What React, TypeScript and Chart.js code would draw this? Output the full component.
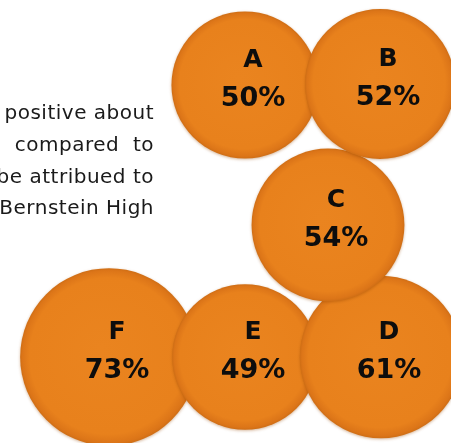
import React, { useEffect, useRef } from "react";
import { Chart, registerables } from "chart.js";

Chart.register(...registerables);

// Data
const CATEGORIES = ["A", "B", "C", "D", "E", "F"];
const VALUES = [50, 52, 54, 61, 49, 73]; // percent
// Packed-bubble layout (scale units) for each category
const LAYOUT_X = [245, 380, 328, 381, 245, 109];
const LAYOUT_Y = [85, 84, 225, 357, 357, 357];
// drawing order (back to front)
const DRAW_ORDER = [5, 4, 3, 2, 0, 1];
const SIDE_TEXT = ["positive about", "compared  to", "be attribued to", "Bernstein High"];

const W = 451;
const H = 443;
const RADIUS_K = 10.4;

export default function App() {
  const ref = useRef<HTMLCanvasElement | null>(null);

  useEffect(() => {
    document.body.style.margin = "0";
    const canvas = ref.current;
    if (!canvas) return;

    const points = DRAW_ORDER.map((i) => ({
      x: LAYOUT_X[i],
      y: LAYOUT_Y[i],
      v: VALUES[i],
      label: CATEGORIES[i],
    }));

    const radiusOf = (v: number) => RADIUS_K * Math.sqrt(v);

    const labelPlugin = {
      id: "bubbleLabels",
      beforeDatasetsDraw(chart: any) {
        const ctx = chart.ctx;
        ctx.save();
        ctx.fillStyle = "#1a1a1a";
        ctx.font = "20px 'DejaVu Sans'";
        (ctx as any).letterSpacing = "0.5px";
        ctx.textAlign = "right";
        ctx.textBaseline = "alphabetic";
        const baselines = [119, 151, 183, 214];
        SIDE_TEXT.forEach((t, i) => ctx.fillText(t, 154, baselines[i]));
        ctx.restore();
        ctx.save();
        ctx.shadowColor = "rgba(150,70,0,0.4)";
        ctx.shadowBlur = 3;
        ctx.shadowOffsetX = 0;
        ctx.shadowOffsetY = 1;
      },
      afterDatasetsDraw(chart: any) {
        const ctx = chart.ctx;
        ctx.restore();
        const meta = chart.getDatasetMeta(0);
        ctx.save();
        ctx.fillStyle = "#0d0d0d";
        ctx.textAlign = "center";
        ctx.textBaseline = "alphabetic";
        meta.data.forEach((el: any, i: number) => {
          const p = points[i];
          ctx.font = "bold 25px 'DejaVu Sans'";
          ctx.fillText(p.label, el.x + 8, el.y - 18);
          ctx.font = "bold 27px 'DejaVu Sans'";
          ctx.fillText(p.v + "%", el.x + 8, el.y + 21);
        });
        ctx.restore();
      },
    };

    const chart = new Chart(canvas, {
      type: "bubble",
      data: {
        datasets: [
          {
            data: points as any,
            clip: false as any,
            borderWidth: 0,
            radius: (c: any) => radiusOf(c.raw ? c.raw.v : 50),
            hoverRadius: 0,
            backgroundColor: (c: any) => {
              const chart = c.chart;
              const raw = c.raw;
              if (!raw || !chart.chartArea) return "#E8811C";
              const x = chart.scales.x.getPixelForValue(raw.x);
              const y = chart.scales.y.getPixelForValue(raw.y);
              const r = radiusOf(raw.v);
              const g = chart.ctx.createRadialGradient(x - r * 0.1, y - r * 0.1, 0, x, y, r);
              g.addColorStop(0, "#EA841F");
              g.addColorStop(0.88, "#E8811C");
              g.addColorStop(0.97, "#DC7518");
              g.addColorStop(1, "#CF6E15");
              return g;
            },
          },
        ],
      },
      options: {
        animation: false,
        responsive: true,
        maintainAspectRatio: false,
        layout: { padding: 0, autoPadding: false },
        events: [],
        plugins: { legend: { display: false }, tooltip: { enabled: false } },
        scales: {
          x: { type: "linear", min: 0, max: W, display: false },
          y: { type: "linear", min: 0, max: H, reverse: true, display: false },
        },
      },
      plugins: [labelPlugin],
    });

    return () => chart.destroy();
  }, []);

  return (
    <div style={{ position: "absolute", left: 0, top: 0, width: W, height: H, background: "#fff" }}>
      <canvas ref={ref} />
    </div>
  );
}
